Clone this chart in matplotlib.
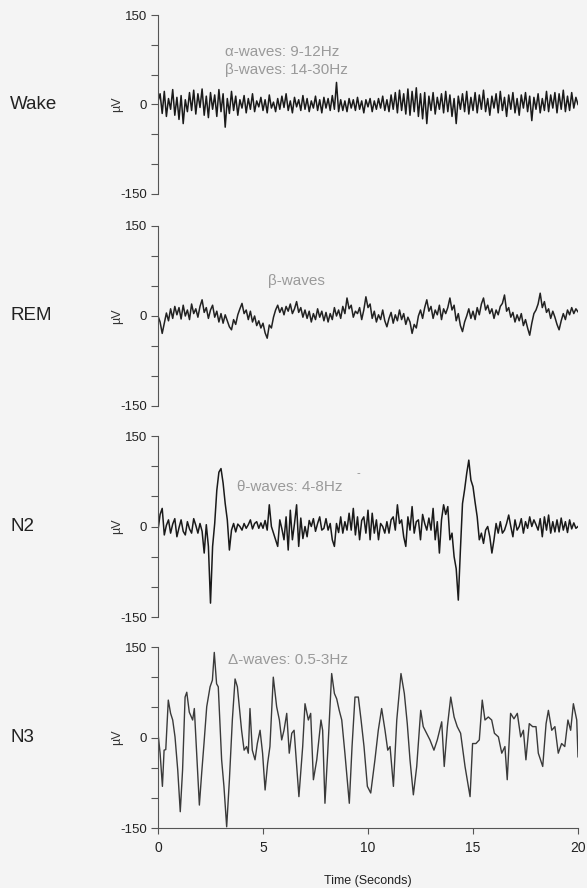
import numpy as np
import matplotlib
matplotlib.use("Agg")
import matplotlib.pyplot as plt
from matplotlib.transforms import blended_transform_factory

plt.rcParams['font.family'] = ['Liberation Sans', 'DejaVu Sans']
plt.rcParams['axes.unicode_minus'] = False

# ---------------- data ----------------
stages = ["Wake", "REM", "N2", "N3"]
wave_labels = ["α-waves: 9-12Hz\nβ-waves: 14-30Hz", "β-waves", "θ-waves: 4-8Hz", "Δ-waves: 0.5-3Hz"]
x_ticks = [0, 5, 10, 15, 20]
y_ticks = [-150, 0, 150]

# Wake / REM / N2 sampled every 0.1 s from 0 to 20 s
step = 0.1
wake_uv = [
    5, 18, -15, 22, -20, 10, -8, 25, -18, 12,
    -25, 15, -32, 8, -12, 20, -10, 24, -16, 18,
    -5, 26, -18, 14, -22, 20, -8, 16, -20, 25,
    -12, 18, -38, 10, -15, 22, -10, 14, -18, 8,
    -6, 15, -14, 10, -8, 18, -12, 6, -4, 12,
    -10, 8, -14, 16, -6, 4, -12, 10, -8, 14,
    -5, 18, -10, 6, -14, 12, -4, 8, -10, 15,
    -8, 10, -12, 6, -6, 14, -10, 8, -14, 12,
    -6, 10, -10, 15, -8, 37, -12, 8, -10, 6,
    -12, 10, -6, 8, -10, 12, -8, 6, -14, 8,
    -4, 10, -12, 6, -8, 10, -6, 14, -10, 8,
    -12, 16, -8, 20, -14, 24, -10, 18, -16, 26,
    -18, 22, -12, 28, -20, 18, -24, 20, -32, 14,
    -10, 20, -16, 12, -8, 18, -14, 22, -12, 16,
    -20, 10, -32, 14, -8, 18, -12, 22, -16, 12,
    -10, 20, -14, 16, -8, 24, -12, 10, -18, 14,
    -6, 18, -14, 22, -10, 12, -20, 16, -8, 20,
    -14, 10, -18, 16, -6, 20, -12, 14, -27, 12,
    -8, 18, -14, 10, -10, 22, -12, 16, -6, 20,
    -14, 18, -8, 24, -12, 14, -10, 20, -6, 12, 0,
]
rem_uv = [
    0, -10, -29, -12, 5, -8, 12, -4, 16, 2,
    14, -5, 18, 0, 10, -6, 20, 4, 12, -2,
    16, 27, 6, 14, -4, 10, 18, -2, 8, -10,
    4, -12, 2, -8, -18, -23, -6, -14, 2, 12,
    21, 4, 10, -6, 8, -10, 0, -16, -8, -20,
    -12, -28, -37, -15, -20, -2, 10, 18, 6, 14,
    2, 16, 8, 20, 4, 12, 24, 6, 14, -2,
    10, -4, 8, -10, 4, -6, 12, -2, 8, -8,
    6, -10, 4, -6, 14, 0, 10, -4, 16, 4,
    30, 12, 18, -2, 8, 4, 14, -6, 10, 32,
    14, 20, -4, 8, -10, 2, -6, 10, -8, -18,
    -4, 6, -12, 2, -8, 10, -6, 4, -14, -2,
    -10, -29, -14, -20, 0, 10, -4, 14, 27, 8,
    16, -4, 10, 2, 18, -6, 12, 4, 14, 30,
    10, 18, -8, 4, -16, -26, -10, 0, 12, -4,
    8, -6, 14, 2, 20, 30, 10, 18, 4, 12,
    -4, 10, 2, 16, 21, 35, 8, 14, -2, 6,
    -10, 2, -8, 4, -16, -6, -20, -32, -12, 4,
    10, 20, 38, 14, 24, 6, 12, -4, 8, -2,
    -14, -23, -8, 4, -6, 10, 2, 14, 4, 12, 7,
]
n2_uv = [
    -6, 20, 30, -14, 2, 11, -11, 4, 13, -17,
    -2, 11, -8, -14, 8, -4, -11, 13, 2, -11,
    5, -8, -44, 3, -33, -127, -33, 5, 60, 90,
    96, 72, 38, 11, -39, -6, 5, -9, 4, 0,
    -6, 5, -3, 3, 11, -4, 5, 8, -3, 6,
    -3, 10, -6, 36, 0, -11, -22, -33, 11, -4,
    -22, 16, -39, 27, -22, 5, 36, -33, 14, -20,
    0, -17, 10, 0, 13, -8, 5, 16, -6, -3,
    13, -6, 5, -22, -33, 5, -10, 16, -11, 8,
    -6, 22, -6, 30, -14, 16, -22, 10, 16, -11,
    27, -22, 22, -11, 11, -22, 5, 0, -11, 8,
    -11, 11, 16, -6, 36, 5, 11, -17, -33, 16,
    -6, 33, -11, 8, 11, -22, 20, 5, -6, 14,
    -6, 30, -22, 8, -44, 11, 36, 20, 33, -22,
    -11, -50, -70, -122, -39, 38, 61, 88, 110, 77,
    66, 40, 16, -22, -11, -28, -6, 0, -17, -44,
    -22, 5, -11, 8, -11, -6, 5, 19, 0, -17,
    11, -6, 0, 13, -11, 8, -3, 16, 0, 11,
    3, -6, 13, -17, 16, -6, 19, -11, 8, -9,
    11, -9, 14, -6, 8, -10, 11, -4, 6, -3, 0,
]

# N3 read at irregular times
n3_t = [0.0, 0.10, 0.21, 0.29, 0.37, 0.49, 0.60, 0.70, 0.81, 0.94, 1.06, 1.17, 1.29, 1.37,
        1.49, 1.65, 1.73, 1.84, 1.97, 2.08, 2.19, 2.32, 2.48, 2.59, 2.68, 2.79, 2.87, 3.03,
        3.14, 3.27, 3.40, 3.54, 3.67, 3.78, 3.87, 3.98, 4.10, 4.22, 4.30, 4.38, 4.49, 4.62,
        4.73, 4.86, 4.98, 5.10, 5.22, 5.33, 5.49, 5.65, 5.78, 5.89, 6.00, 6.13, 6.25, 6.37,
        6.48, 6.71, 6.89, 7.00, 7.16, 7.27, 7.40, 7.56, 7.76, 7.84, 7.95, 8.08, 8.27, 8.40,
        8.51, 8.63, 8.75, 8.90, 9.11, 9.24, 9.38, 9.54, 9.67, 9.81, 9.97, 10.13, 10.33, 10.49,
        10.65, 10.81, 10.94, 11.05, 11.21, 11.37, 11.57, 11.73, 11.87, 12.00, 12.16, 12.32,
        12.51, 12.63, 12.79, 12.95, 13.14, 13.30, 13.51, 13.63, 13.78, 13.94, 14.10, 14.25,
        14.41, 14.62, 14.86, 14.98, 15.14, 15.30, 15.44, 15.57, 15.73, 15.89, 16.02, 16.21,
        16.37, 16.52, 16.63, 16.79, 16.95, 17.11, 17.27, 17.40, 17.52, 17.68, 17.84, 18.00,
        18.11, 18.32, 18.48, 18.59, 18.75, 18.90, 19.06, 19.22, 19.37, 19.52, 19.65, 19.78,
        19.94, 20.0]
n3_uv = [7, -26, -81, -21, -20, 62, 40, 29, 1, -54, -123, -54, 67, 75,
         42, 29, 48, -26, -112, -59, -10, 51, 84, 95, 141, 89, 84, -37,
         -81, -148, -70, 29, 97, 84, 51, 12, -21, -15, -26, 48, -21, -37,
         -10, 12, -26, -87, -43, -15, 100, 51, 29, -4, 12, 40, -26, 7,
         12, -98, -15, 56, 29, 40, -70, -37, 29, 12, -109, -26, 106, 73,
         64, 45, 29, -26, -109, -15, 67, 67, 29, -15, -81, -92, -37, 12,
         48, 12, -21, -15, -81, 29, 106, 73, 23, -37, -95, -48,
         45, 18, 7, -4, -21, -4, 26, -48, 18, 67, 34, 18,
         7, -48, -98, -10, -10, -4, 62, 29, 34, 29, 7, 1,
         -26, -15, -70, 40, 31, 40, 1, 12, -37, 23, 18, 18,
         -26, -48, 23, 45, 12, 18, -26, -10, -15, 29, 12, 56,
         29, -32]

# ---------------- figure ----------------
bg = '#f4f4f4'
fig = plt.figure(figsize=(5.87, 8.88), dpi=100, facecolor=bg)

W, H = 587.0, 888.0
left_px, right_px = 158, 578
panels_px = [(15, 194), (226, 406), (436, 617), (647, 828)]

t_reg = np.arange(len(wake_uv)) * step
series = [(t_reg, wake_uv), (t_reg, rem_uv), (t_reg, n2_uv), (n3_t, n3_uv)]
line_colors = ['#1a1a1a', '#222222', '#1a1a1a', '#3a3a3a']
line_widths = [1.1, 1.1, 1.1, 1.0]
label_pos = [(3.2, 73), (5.25, 58), (3.75, 65), (3.35, 128)]

spine_col = '#555555'
for i, (top, bot) in enumerate(panels_px):
    ax = fig.add_axes([left_px / W, 1 - bot / H, (right_px - left_px) / W, (bot - top) / H])
    ax.set_facecolor(bg)
    t, v = series[i]
    ax.plot(t, v, color=line_colors[i], lw=line_widths[i])
    ax.set_xlim(0, 20)
    ax.set_ylim(-150, 150)
    ax.set_yticks(y_ticks)
    ax.set_yticks([-100, -50, 50, 100], minor=True)
    ax.tick_params(axis='y', which='both', length=5, width=0.8, color=spine_col,
                   labelsize=9.5, labelcolor='#222222', pad=3)
    for s in ['top', 'right']:
        ax.spines[s].set_visible(False)
    ax.spines['left'].set_color(spine_col)
    ax.spines['left'].set_linewidth(0.8)
    ax.set_ylabel('µV', fontsize=9, color='#333333')
    ax.yaxis.set_label_coords(-0.083, 0.5)
    if i < 3:
        ax.spines['bottom'].set_visible(False)
        ax.set_xticks([])
    else:
        ax.spines['bottom'].set_color(spine_col)
        ax.spines['bottom'].set_linewidth(0.8)
        ax.set_xticks(x_ticks)
        ax.tick_params(axis='x', length=4, width=0.8, color=spine_col,
                       labelsize=10, labelcolor='#222222', pad=5)
        ax.set_xlabel('Time (Seconds)', fontsize=9, color='#222222', labelpad=15)
    trans = blended_transform_factory(fig.transFigure, ax.transData)
    ax.text(10 / W, 0, stages[i], transform=trans, fontsize=13.5, color='#222222',
            ha='left', va='center')
    lx, ly = label_pos[i]
    ax.text(lx, ly, wave_labels[i], fontsize=11, color='#9a9a9a', ha='left',
            va='center', linespacing=1.3)
    if i == 2:
        ax.text(9.47, 88, '-', fontsize=8, color='#8a8a8a', ha='left', va='center')

fig.savefig('out.png', dpi=100, facecolor=bg)
